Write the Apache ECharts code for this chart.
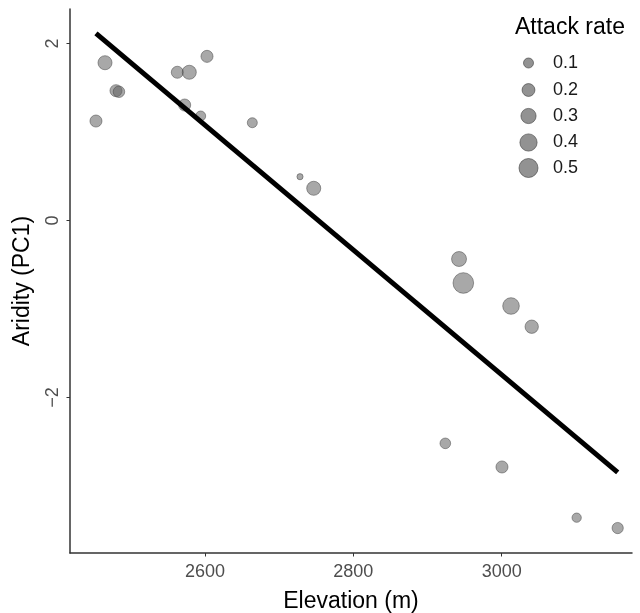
<!DOCTYPE html>
<html><head><meta charset="utf-8">
<script src="https://cdn.jsdelivr.net/npm/echarts@6/dist/echarts.min.js"></script>
<style>html,body{margin:0;padding:0;background:#fff}#c{width:640px;height:613px}</style>
</head><body><div id="c"></div>
<script>
const elevation = [2465.2,2480.0,2484.0,2453.0,2562.7,2578.8,2602.7,2572.6,2594.2,2663.8,2728.1,2746.6,2942.5,2948.3,3012.6,3040.5,2924.0,3000.4,3101.1,3156.4];
const aridity   = [1.783,1.467,1.455,1.124,1.675,1.675,1.855,1.305,1.181,1.105,0.495,0.364,-0.435,-0.706,-0.966,-1.200,-2.518,-2.785,-3.358,-3.475];
const attackRate= [0.25,0.17,0.15,0.17,0.17,0.25,0.17,0.17,0.10,0.10,0.005,0.25,0.29,0.60,0.37,0.22,0.12,0.17,0.08,0.14];
const fitX = [2453.0,3156.4];
const fitY = [2.115,-2.845];
const xTicks = [2600,2800,3000];
const yTicks = [-2,0,2];
const legendRates = [0.1,0.2,0.3,0.4,0.5];
const legendLabels = ['0.1','0.2','0.3','0.4','0.5'];

const sizeOf = r => Math.sqrt(34.75 + 652.5*r);
const FONT = 'Liberation Sans';
const chart = echarts.init(document.getElementById('c'));
const pts = elevation.map((x,i)=>[x, aridity[i], attackRate[i]]);
const legendY = [63,90,116,142.5,168];
const graphics = [{type:'text', x:515, y:28, style:{text:'Attack rate', font:'23px '+FONT, fill:'#000', verticalAlign:'middle'}}];
legendRates.forEach((r,i)=>{
  graphics.push({type:'circle', shape:{cx:528.5, cy:legendY[i], r:sizeOf(r)/2},
    style:{fill:'rgba(100,100,100,0.7)', stroke:'rgba(60,60,60,0.6)', lineWidth:1}});
  graphics.push({type:'text', x:553, y:legendY[i], style:{text:legendLabels[i], font:'18px '+FONT, fill:'#1a1a1a', verticalAlign:'middle'}});
});
chart.setOption({
  animation:false,
  grid:{left:70, right:8, top:9, bottom:60, containLabel:false, outerBoundsMode:'none'},
  xAxis:{type:'value', min:2418, max:3175.7, splitLine:{show:false},
    name:'Elevation (m)', nameLocation:'middle', nameGap:37,
    nameTextStyle:{fontFamily:FONT, fontSize:23, color:'#000'},
    axisLine:{show:true, onZero:false, lineStyle:{color:'#333', width:1.5}},
    axisTick:{show:true, length:3.5, lineStyle:{color:'#333'}, customValues:xTicks},
    axisLabel:{fontFamily:FONT, fontSize:18, color:'#4d4d4d', margin:10, customValues:xTicks, formatter:v=>String(v)}},
  yAxis:{type:'value', min:-3.757, max:2.39, splitLine:{show:false},
    name:'Aridity (PC1)', nameLocation:'middle', nameGap:36,
    nameTextStyle:{fontFamily:FONT, fontSize:23, color:'#000'},
    axisLine:{show:true, onZero:false, lineStyle:{color:'#333', width:1.5}},
    axisTick:{show:true, length:3.5, lineStyle:{color:'#333'}, customValues:yTicks},
    axisLabel:{fontFamily:FONT, fontSize:18, color:'#4d4d4d', margin:8, rotate:90, customValues:yTicks,
      formatter:v=> v<0 ? '\u2212'+Math.abs(v) : String(v)}},
  series:[
    {type:'line', data:fitX.map((x,i)=>[x,fitY[i]]), symbol:'none', lineStyle:{color:'#000', width:5}, z:3},
    {type:'scatter', data:pts, symbolSize:d=>sizeOf(d[2]),
      itemStyle:{color:'rgba(100,100,100,0.7)', borderColor:'rgba(60,60,60,0.6)', borderWidth:1}, z:2}
  ],
  graphic:graphics
});
</script></body></html>
